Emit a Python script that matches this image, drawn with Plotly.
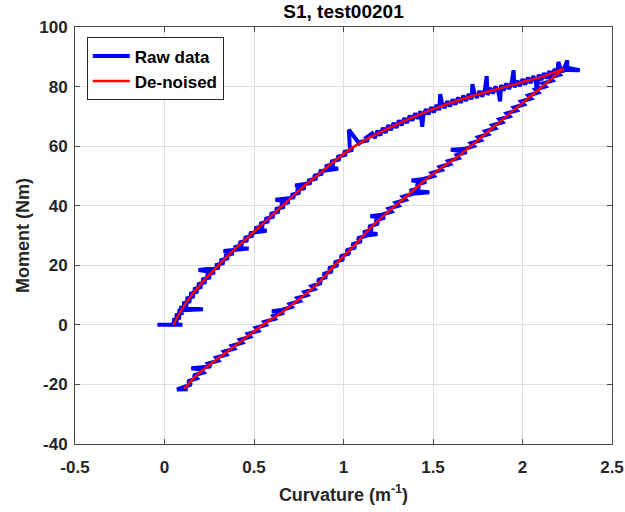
import plotly.graph_objects as go

# ---------------- data ----------------
# Raw data, loading branch, lower (steep) part (curvature, moment)
raw_load_k = [
    -0.04, 0.10, 0.04, 0.075, 0.046, 0.089, 0.060, 0.104, 0.075, 0.215,
    0.084, 0.129, 0.102, 0.147, 0.120, 0.166, 0.141, 0.187, 0.162, 0.209,
    0.184, 0.232, 0.208, 0.257, 0.233, 0.282, 0.19, 0.307, 0.284, 0.333,
    0.310, 0.358, 0.336, 0.386, 0.33, 0.47, 0.387, 0.437, 0.416, 0.466,
    0.445, 0.495, 0.474, 0.57, 0.503, 0.553, 0.532, 0.583, 0.561, 0.612,
    0.590, 0.641, 0.619, 0.670, 0.648, 0.699, 0.62, 0.728, 0.707, 0.757,
    0.736, 0.788, 0.73, 0.820, 0.800, 0.852, 0.832, 0.884, 0.864, 0.97,
    0.896, 0.948, 0.928, 0.981, 0.963, 1.017, 0.999, 1.052, 1.035, 1.03,
    1.094, 1.081, 1.139, 1.126,
]
raw_load_m = [
    0.0, 0.0, 0.2, 0.8, 1.6, 2.4, 3.2, 4.0, 4.8, 5.2,
    5.6, 6.4, 7.2, 8.0, 8.8, 9.6, 10.4, 11.2, 12.0, 12.8,
    13.6, 14.4, 15.2, 16.0, 16.8, 17.6, 18.4, 19.2, 20.0, 20.8,
    21.6, 22.4, 23.2, 24.0, 24.8, 25.6, 26.0, 26.8, 27.6, 28.4,
    29.2, 30.0, 30.8, 31.6, 32.4, 33.2, 34.0, 34.8, 35.6, 36.4,
    37.2, 38.0, 38.8, 39.6, 40.4, 41.2, 42.0, 42.8, 43.6, 44.4,
    45.2, 46.0, 46.8, 47.6, 48.4, 49.2, 50.0, 50.8, 51.6, 52.4,
    53.2, 54.0, 54.8, 55.6, 56.4, 57.2, 58.0, 58.8, 59.6, 65.5,
    60.4, 61.2, 62.0, 62.8,
]

# Raw data, loading branch, upper (flat) part
raw_top_k = [
    1.160, 1.175, 1.190, 1.205, 1.220, 1.235, 1.250, 1.265, 1.280, 1.295,
    1.310, 1.325, 1.340, 1.355, 1.370, 1.385, 1.400, 1.415, 1.430, 1.440,
    1.445, 1.460, 1.475, 1.490, 1.505, 1.520, 1.535, 1.540, 1.550, 1.565,
    1.580, 1.595, 1.610, 1.625, 1.640, 1.655, 1.670, 1.685, 1.700, 1.715,
    1.720, 1.730, 1.745, 1.760, 1.775, 1.790, 1.800, 1.805, 1.820, 1.835,
    1.850, 1.865, 1.875, 1.880, 1.895, 1.910, 1.925, 1.940, 1.950, 1.955,
    1.970, 1.985, 2.000, 2.015, 2.030, 2.045, 2.060, 2.075, 2.080, 2.090,
    2.105, 2.120, 2.135, 2.150, 2.165, 2.180, 2.195, 2.200, 2.210, 2.225,
    2.250, 2.250, 2.320, 2.240,
]
raw_top_m = [
    64.3, 62.7, 65.2, 63.6, 66.1, 64.5, 67.0, 65.4, 67.8, 66.2,
    68.6, 67.0, 69.4, 67.8, 70.2, 68.6, 71.0, 69.3, 71.7, 66.5,
    70.0, 72.4, 70.7, 73.1, 71.4, 73.8, 72.1, 77.5, 74.5, 72.8,
    75.1, 73.4, 75.7, 74.0, 76.3, 74.6, 76.9, 75.2, 77.5, 75.7,
    80.8, 78.0, 76.2, 78.5, 76.7, 79.0, 83.5, 77.2, 79.5, 77.7,
    80.0, 78.2, 75.0, 80.5, 78.7, 81.0, 79.2, 81.5, 85.5, 79.7,
    82.0, 80.2, 82.5, 80.7, 83.0, 81.2, 83.5, 81.7, 78.0, 84.0,
    82.2, 84.5, 82.8, 85.2, 83.5, 85.9, 84.2, 88.3, 86.5, 84.9,
    88.8, 86.3, 85.5, 85.6,
]

# Raw data, unloading branch
raw_unload_k = [
    2.192, 2.208, 2.152, 2.168, 2.112, 2.128, 2.072, 2.088, 2.032, 2.048,
    1.992, 2.008, 1.952, 1.968, 1.912, 1.928, 1.872, 1.888, 1.832, 1.848,
    1.792, 1.808, 1.752, 1.768, 1.712, 1.728, 1.672, 1.60, 1.688, 1.632,
    1.644, 1.584, 1.597, 1.537, 1.550, 1.492, 1.506, 1.448, 1.38, 1.462,
    1.407, 1.425, 1.370, 1.48, 1.387, 1.332, 1.348, 1.292, 1.308, 1.252,
    1.268, 1.214, 1.15, 1.232, 1.177, 1.195, 1.141, 1.160, 1.109, 1.19,
    1.129, 1.078, 1.099, 1.047, 1.068, 1.015, 1.035, 0.982, 1.001, 0.949,
    0.968, 0.917, 0.937, 0.886, 0.906, 0.855, 0.876, 0.822, 0.838, 0.782,
    0.798, 0.742, 0.757, 0.699, 0.712, 0.654, 0.60, 0.668, 0.607, 0.618,
    0.557, 0.568, 0.510, 0.524, 0.465, 0.479, 0.421, 0.435, 0.376, 0.390,
    0.332, 0.346, 0.288, 0.301, 0.243, 0.258, 0.15, 0.202, 0.218, 0.162,
    0.180, 0.130, 0.150, 0.10, 0.07, 0.13,
]
raw_unload_m = [
    85, 84, 83, 82, 81, 80, 79, 78, 77, 76,
    75, 74, 73, 72, 71, 70, 69, 68, 67, 66,
    65, 64, 63, 62, 61, 60, 59, 58.8, 58, 57,
    56, 55, 54, 53, 52, 51, 50, 49, 48.5, 48,
    47, 46, 45, 44.5, 44, 43, 42, 41, 40, 39,
    38, 37, 36.5, 36, 35, 34, 33, 32, 31, 30.5,
    30, 29, 28, 27, 26, 25, 24, 23, 22, 21,
    20, 19, 18, 17, 16, 15, 14, 13, 12, 11,
    10, 9, 8, 7, 6, 5, 4.6, 4, 3, 2,
    1, 0, -1, -2, -3, -4, -5, -6, -7, -8,
    -9, -10, -11, -12, -13, -14, -14.6, -15, -16, -17,
    -18, -19, -20, -21, -21.7, -21.6,
]

# De-noised curve
den_load_k = [0.05, 0.09, 0.14, 0.20, 0.27, 0.35, 0.45, 0.55, 0.65, 0.75, 0.85,
              0.95, 1.05, 1.15, 1.25, 1.40, 1.55, 1.70, 1.85, 2.00, 2.12, 2.23]
den_load_m = [0.0, 4.5, 9.0, 13.5, 18.0, 23.0, 28.5, 34.0, 39.5, 45.0, 50.0,
              55.0, 59.5, 63.0, 66.0, 70.0, 73.5, 76.5, 79.0, 81.5, 83.5, 86.0]
den_unload_k = [2.23, 2.15, 2.05, 1.95, 1.85, 1.75, 1.65, 1.55, 1.45, 1.35, 1.25, 1.15,
                1.05, 0.95, 0.85, 0.75, 0.65, 0.55, 0.45, 0.35, 0.25, 0.17, 0.11]
den_unload_m = [86.0, 82.0, 77.0, 72.0, 67.0, 62.0, 57.0, 52.8, 48.3, 43.0, 38.0, 32.5,
                26.0, 20.0, 13.5, 8.5, 4.0, 0.0, -4.5, -9.0, -13.5, -17.5, -21.5]

x_ticks = [-0.5, 0, 0.5, 1, 1.5, 2, 2.5]
x_ticktext = ["-0.5", "0", "0.5", "1", "1.5", "2", "2.5"]
y_ticks = [-40, -20, 0, 20, 40, 60, 80, 100]
y_ticktext = ["-40", "-20", "0", "20", "40", "60", "80", "100"]

assert len(raw_load_k) == len(raw_load_m)
assert len(raw_top_k) == len(raw_top_m)
assert len(raw_unload_k) == len(raw_unload_m)

# ---------------- figure ----------------
FONT = "Liberation Sans, Arial, Helvetica, sans-serif"
DARK = "#262626"

fig = go.Figure()
fig.add_trace(go.Scatter(
    x=raw_load_k + raw_top_k + raw_unload_k,
    y=raw_load_m + raw_top_m + raw_unload_m,
    mode="lines", name="Raw data", legendgroup="raw",
    line=dict(color="#0000ff", width=4),
))
fig.add_trace(go.Scatter(
    x=den_load_k, y=den_load_m, mode="lines", name="De-noised", legendgroup="den",
    line=dict(color="#ff0000", width=2.5, shape="spline", smoothing=0.8),
))
fig.add_trace(go.Scatter(
    x=den_unload_k, y=den_unload_m, mode="lines", name="De-noised", legendgroup="den",
    showlegend=False,
    line=dict(color="#ff0000", width=2.5, shape="spline", smoothing=0.8),
))

axis_common = dict(
    showgrid=True, gridcolor="#dedede", gridwidth=1,
    zeroline=False, showline=True, linecolor="#4a4a4a", linewidth=1,
    mirror="allticks", ticks="inside", ticklen=5, tickcolor="#4a4a4a",
    automargin=False,
    tickfont=dict(family=FONT, size=17, color=DARK, weight="bold"),
)

fig.update_layout(
    width=625, height=512,
    margin=dict(l=75, r=13, t=27, b=68),
    paper_bgcolor="white", plot_bgcolor="white",
    title=dict(text="S1, test00201", x=0.5, xref="paper", xanchor="center",
               y=1 - 11 / 512, yref="container", yanchor="middle",
               font=dict(family=FONT, size=19, color="#000000", weight="bold")),
    xaxis=dict(range=[-0.5, 2.5], tickvals=x_ticks, ticktext=x_ticktext,
               ticklabelstandoff=8,
               title=dict(text="Curvature (m<sup>-1</sup>)", standoff=11,
                          font=dict(family=FONT, size=18, color=DARK, weight="bold")),
               **axis_common),
    yaxis=dict(range=[-40, 100], tickvals=y_ticks, ticktext=y_ticktext,
               ticklabelstandoff=3,
               title=dict(text="Moment (Nm)", standoff=4,
                          font=dict(family=FONT, size=18, color=DARK, weight="bold")),
               **axis_common),
    legend=dict(x=0.022, y=0.975, xanchor="left", yanchor="top",
                bgcolor="white", bordercolor=DARK, borderwidth=1,
                tracegroupgap=0, itemwidth=37,
                font=dict(family=FONT, size=17, color="#000000", weight="bold")),
    showlegend=True,
)

fig.write_html("out.html", config={"displayModeBar": False},
               post_script="document.body.style.margin='0px';")
